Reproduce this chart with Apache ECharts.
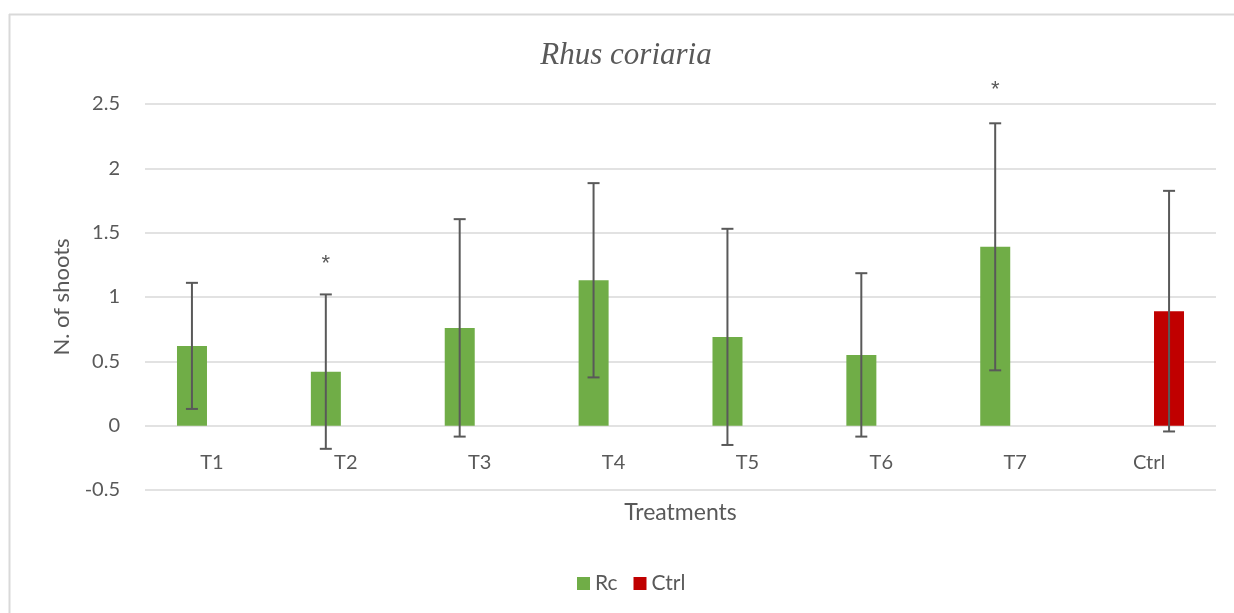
<!DOCTYPE html>
<html>
<head>
<meta charset="utf-8">
<script src="https://cdn.jsdelivr.net/npm/echarts@6/dist/echarts.min.js"></script>
<style>
html,body{margin:0;padding:0;background:#fff;}
#chart{width:1234px;height:613px;}
</style>
</head>
<body>
<div id="chart"></div>
<script>
const categories = ['T1', 'T2', 'T3', 'T4', 'T5', 'T6', 'T7', 'Ctrl'];
const rcMean  = [0.62, 0.42, 0.76, 1.13, 0.69, 0.55, 1.39, null];
const rcErr   = [0.49, 0.60, 0.845, 0.755, 0.84, 0.635, 0.96, null];
const ctrlMean = [null, null, null, null, null, null, null, 0.89];
const ctrlErr  = [null, null, null, null, null, null, null, 0.935];
const sigMarks = ['', '*', '', '', '', '', '*', ''];
const sigPos   = [null, 1.29, null, null, null, null, 2.64, null];
const yTicks = { min: -0.5, max: 2.5, interval: 0.5 };

const FONT = 'Lato';
const TXT = '#595959';

function errData(mean, err) {
  const out = [];
  mean.forEach((m, i) => { if (m != null) out.push([i, m - err[i], m + err[i]]); });
  return out;
}
function errRender(offset) {
  return function (params, api) {
    const x = api.value(0);
    const lo = api.coord([x, api.value(1)]);
    const hi = api.coord([x, api.value(2)]);
    const cx = lo[0] + offset;
    const cap = 6;
    const st = { stroke: TXT, lineWidth: 2 };
    return { type: 'group', children: [
      { type: 'line', shape: { x1: cx, y1: lo[1], x2: cx, y2: hi[1] }, style: st },
      { type: 'line', shape: { x1: cx - cap, y1: hi[1], x2: cx + cap, y2: hi[1] }, style: st },
      { type: 'line', shape: { x1: cx - cap, y1: lo[1], x2: cx + cap, y2: lo[1] }, style: st }
    ]};
  };
}
const sigData = [];
sigMarks.forEach((s, i) => { if (s) sigData.push([i, sigPos[i], s]); });
const catData = categories.map((c, i) => [i, 0, c]);

const chart = echarts.init(document.getElementById('chart'), null, { renderer: 'canvas' });
chart.setOption({
  backgroundColor: '#fff',
  animation: false,
  graphic: [
    { type: 'line', shape: { x1: 9, y1: 14.5, x2: 1234, y2: 14.5 }, style: { stroke: '#d9d9d9', lineWidth: 2 } },
    { type: 'line', shape: { x1: 9.5, y1: 14, x2: 9.5, y2: 613 }, style: { stroke: '#d9d9d9', lineWidth: 2 } },
    { type: 'text', x: 626, y: 56, style: { text: 'Rhus coriaria', fill: TXT, font: 'italic 31px "Liberation Serif"', textAlign: 'center', textVerticalAlign: 'middle' } }
  ],
  legend: {
    data: ['Rc', 'Ctrl'],
    left: 572, top: 568,
    itemWidth: 13, itemHeight: 13, itemGap: 16,
    icon: 'rect',
    textStyle: { color: TXT, fontFamily: FONT, fontSize: 21 }
  },
  grid: { left: 145, right: 18, top: 104, bottom: 123 },
  xAxis: {
    type: 'category',
    data: categories,
    name: 'Treatments',
    nameLocation: 'middle',
    nameGap: 11,
    nameTextStyle: { color: TXT, fontFamily: FONT, fontSize: 23 },
    axisLine: { show: false },
    axisTick: { show: false },
    axisLabel: { show: false }
  },
  yAxis: {
    type: 'value',
    min: yTicks.min, max: yTicks.max, interval: yTicks.interval,
    name: 'N. of shoots',
    nameLocation: 'middle',
    nameGap: 72,
    nameTextStyle: { color: TXT, fontFamily: FONT, fontSize: 22 },
    axisLine: { show: false },
    axisTick: { show: false },
    axisLabel: { margin: 25, color: TXT, fontFamily: FONT, fontSize: 20 },
    splitLine: { lineStyle: { color: '#d9d9d9', width: 1.5 } }
  },
  series: [
    { name: 'Rc', type: 'bar', data: rcMean, barWidth: 30, barGap: '33%', itemStyle: { color: '#70ad47' } },
    { name: 'Ctrl', type: 'bar', data: ctrlMean, barWidth: 30, barGap: '33%', itemStyle: { color: '#c00000' } },
    { type: 'custom', name: 'errRc', data: errData(rcMean, rcErr), renderItem: errRender(-20), z: 5, silent: true },
    { type: 'custom', name: 'errCtrl', data: errData(ctrlMean, ctrlErr), renderItem: errRender(20), z: 5, silent: true },
    { type: 'custom', name: 'sig', data: sigData, z: 5, silent: true,
      renderItem: function (params, api) {
        const p = api.coord([api.value(0), api.value(1)]);
        return { type: 'text', x: p[0] - 20, y: p[1] + 4, style: { text: sigData[params.dataIndex][2], fill: TXT, font: '22px "Liberation Sans"', textAlign: 'center', textVerticalAlign: 'middle' } };
      } },
    { type: 'custom', name: 'catLabels', data: catData, z: 5, silent: true,
      renderItem: function (params, api) {
        const p = api.coord([api.value(0), api.value(1)]);
        return { type: 'text', x: p[0], y: p[1] + 37, style: { text: categories[params.dataIndex], fill: TXT, font: '20px Lato', textAlign: 'center', textVerticalAlign: 'middle' } };
      } }
  ]
});
</script>
</body>
</html>
